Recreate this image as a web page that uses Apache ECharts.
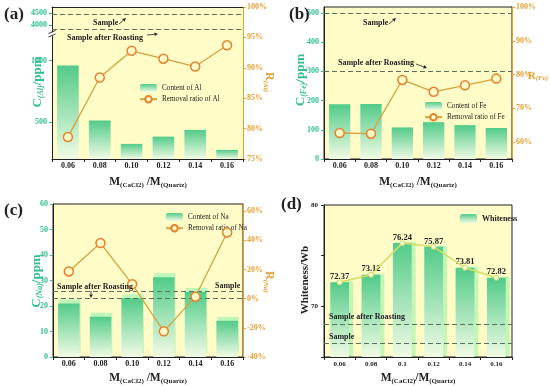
<!DOCTYPE html>
<html>
<head>
<meta charset="utf-8">
<script src="https://cdn.jsdelivr.net/npm/echarts@6/dist/echarts.min.js"></script>
<style>html,body{margin:0;padding:0;background:#fff}#c{width:550px;height:387px}</style>
</head>
<body>
<div id="c"></div>
<script>
// ---- data ----
const categories = ['0.06', '0.08', '0.10', '0.12', '0.14', '0.16'];
const categoriesD = ['0.06', '0.08', '0.1', '0.12', '0.14', '0.16'];
const alContent = [960, 513, 323, 382, 437, 274];
const alRemoval = [78.6, 88.4, 92.8, 91.5, 90.2, 93.7];
const alRefs = [4470, 3800]; // Sample, Sample after Roasting
const feContent = [187, 188, 108, 126, 116, 106];
const feRemoval = [62.7, 62.5, 78.4, 74.9, 76.8, 78.8];
const feRefs = [500, 300];
const naContent = [21, 15.8, 23, 31.3, 25.5, 14.2];
const naRemoval = [18.7, 38.2, 10, -22.4, 1.4, 45.5];
const naRefs = [25.8, 22.9];
const whiteness = [72.37, 73.12, 76.24, 75.87, 73.81, 72.82];
const whiteRefs = [68.23, 66.36];
const alTicksLow = [500, 1000];
const alTicksHigh = [4000, 4500];
const feRightTicks = [60, 70, 80, 90, 100];
const naRightTicks = [-40, -20, 0, 20, 40, 60];
const whiteTicks = [65, 70, 75, 80];
const whiteLabels = [70, 80];

const FONT = 'Liberation Serif';
const TEAL = '#33bf8e';
const ORANGE = '#e3a035';
const DARK = '#222';
const BG = '#fffcc8';
const DASH = '#56745c';

const chart = echarts.init(document.getElementById('c'), null, {renderer: 'canvas'});

const barGrad = {type: 'linear', x: 0, y: 0, x2: 0, y2: 1, colorStops: [
  {offset: 0, color: '#52cb89'}, {offset: 1, color: '#f1fbe4'}]};

function catAxis(grid, data, show, extra) {
  return Object.assign({
    type: 'category', gridIndex: grid, data: data, show: show,
    axisLine: {lineStyle: {color: DARK, width: 1}},
    axisTick: {show: true, length: 3, lineStyle: {color: DARK}},
    axisLabel: {margin: 3, fontFamily: FONT, fontWeight: 'bold', fontSize: 8, color: DARK}
  }, extra || {});
}
function valAxis(grid, pos, min, max, opts) {
  opts = opts || {};
  const color = opts.color || TEAL;
  const suffix = opts.suffix || '';
  const ax = {
    type: 'value', gridIndex: grid, position: pos, min: min, max: max,
    splitLine: {show: false},
    axisLine: {show: true, lineStyle: {color: opts.lineColor || DARK, width: 1}},
    axisTick: {show: true, length: 3, inside: false, lineStyle: {color: opts.tickColor || color}},
    axisLabel: {margin: opts.margin || 5, fontFamily: FONT, fontWeight: 'bold', fontSize: opts.fontSize || 8, color: color,
      formatter: v => String(v) + suffix}
  };
  if (opts.interval) ax.interval = opts.interval;
  if (opts.ticks) { ax.axisTick.customValues = opts.ticks; ax.axisLabel.customValues = opts.labels || opts.ticks; }
  return ax;
}
function refLines(vals) {
  return {silent: true, symbol: 'none', label: {show: false},
    lineStyle: {color: DASH, type: [5, 3], width: 1},
    data: vals.map(v => ({yAxis: v}))};
}
const lineStyleRemoval = {
  type: 'line', symbol: 'circle', symbolSize: 9,
  lineStyle: {color: '#d2a33e', width: 1.3},
  itemStyle: {color: BG, borderColor: '#e8812f', borderWidth: 1.5}, z: 5
};
const legendText = {fontFamily: FONT, fontSize: 7.2, color: DARK};

const option = {
  animation: false,
  backgroundColor: '#fff',
  grid: [
    {left: 52, top: 7, width: 191, height: 152, show: true, backgroundColor: BG, borderWidth: 0},
    {left: 52, top: 36, width: 191, height: 123, show: false},
    {left: 52, top: 7, width: 191, height: 25, show: false},
    {left: 324, top: 7, width: 188, height: 152, show: true, backgroundColor: BG, borderColor: DARK, borderWidth: 1},
    {left: 53, top: 204, width: 190, height: 153, show: true, backgroundColor: BG, borderColor: DARK, borderWidth: 1},
    {left: 324, top: 205, width: 188, height: 152, show: true, backgroundColor: BG, borderColor: DARK, borderWidth: 1}
  ],
  xAxis: [
    catAxis(0, categories, true),
    catAxis(1, categories, false),
    catAxis(2, categories, false),
    catAxis(0, categories, true, {position: 'top', axisTick: {show: false}, axisLabel: {show: false}}),
    catAxis(3, categories, true),
    catAxis(4, categories, true),
    catAxis(5, categoriesD, true, {axisLabel: {margin: 4, fontFamily: FONT, fontWeight: 'bold', fontSize: 7, color: DARK}})
  ],
  yAxis: [
    valAxis(0, 'right', 75, 100, {interval: 5, color: ORANGE, lineColor: ORANGE, suffix: '%', margin: 4}),
    valAxis(1, 'left', 200, 1200, {ticks: alTicksLow}),
    valAxis(2, 'left', 3700, 4770, {ticks: alTicksHigh}),
    valAxis(3, 'left', 0, 520, {interval: 100}),
    valAxis(3, 'right', 55, 100, {ticks: feRightTicks, color: ORANGE, lineColor: ORANGE, suffix: '%', margin: 4}),
    valAxis(4, 'left', 0, 60, {interval: 10}),
    valAxis(4, 'right', -40, 65, {ticks: naRightTicks, color: ORANGE, lineColor: ORANGE, suffix: '%', margin: 4}),
    valAxis(5, 'left', 65, 80, {ticks: whiteTicks, labels: whiteLabels, color: DARK, fontSize: 7, margin: 6})
  ],
  legend: [
    {orient: 'vertical', left: 134, top: 79, itemWidth: 17, itemHeight: 8, itemGap: 3,
      textStyle: legendText, data: ['Content of Al', 'Removal ratio of Al']},
    {orient: 'vertical', left: 419, top: 97, itemWidth: 17, itemHeight: 8, itemGap: 3,
      textStyle: legendText, data: ['Content of Fe', 'Removal ratio of Fe']},
    {orient: 'vertical', left: 160, top: 208, itemWidth: 17, itemHeight: 8, itemGap: 3,
      textStyle: legendText, data: ['Content of Na', 'Removal ratio of Na']},
    {orient: 'vertical', left: 455, top: 209, itemWidth: 17, itemHeight: 9, itemGap: 3,
      textStyle: {fontFamily: FONT, fontSize: 8, fontWeight: 'bold', color: DARK}, data: ['Whiteness']}
  ],
  series: [
    {name: 'Content of Al', type: 'bar', xAxisIndex: 1, yAxisIndex: 1, data: alContent, barWidth: '68%',
      itemStyle: {color: barGrad}},
    {name: 'Al refs', type: 'line', xAxisIndex: 2, yAxisIndex: 2, data: [], markLine: refLines(alRefs)},
    Object.assign({name: 'Removal ratio of Al', xAxisIndex: 0, yAxisIndex: 0, data: alRemoval}, lineStyleRemoval),

    {name: 'Content of Fe', type: 'bar', xAxisIndex: 4, yAxisIndex: 3, data: feContent, barWidth: '68%',
      itemStyle: {color: barGrad}, markLine: refLines(feRefs)},
    Object.assign({name: 'Removal ratio of Fe', xAxisIndex: 4, yAxisIndex: 4, data: feRemoval}, lineStyleRemoval),

    {name: 'Content of Na', type: 'bar', xAxisIndex: 5, yAxisIndex: 5, data: naContent, barWidth: '68%',
      itemStyle: {color: barGrad, shadowColor: 'rgba(170,245,180,0.75)', shadowOffsetY: -4, shadowOffsetX: 1},
      markLine: Object.assign(refLines(naRefs), {z: 4})},
    Object.assign({name: 'Removal ratio of Na', xAxisIndex: 5, yAxisIndex: 6, data: naRemoval}, lineStyleRemoval),

    {name: 'Whiteness', type: 'bar', xAxisIndex: 6, yAxisIndex: 7, data: whiteness, barWidth: '60%',
      itemStyle: {color: barGrad, shadowColor: 'rgba(180,245,175,0.8)', shadowOffsetX: 4, shadowOffsetY: -1},
      label: {show: true, position: 'top', distance: 1, fontFamily: FONT, fontWeight: 'bold', fontSize: 8.5, color: DARK,
        formatter: p => p.value.toFixed(2)},
      markLine: refLines(whiteRefs)},
    {name: 'Whiteness line', type: 'line', xAxisIndex: 6, yAxisIndex: 7, data: whiteness, symbol: 'circle', symbolSize: 5,
      lineStyle: {color: '#d6dc68', width: 1.5}, itemStyle: {color: '#f6f8dc', borderColor: '#d6dc68', borderWidth: 1}, z: 5}
  ],
  graphic: []
};

// text helpers
function txt(x, y, text, o) {
  o = o || {};
  return {type: 'text', x: x, y: y, rotation: o.rot || 0, z: 100,
    style: {text: text, fontFamily: FONT, fontSize: o.size || 8, fontWeight: o.weight || 'bold', fill: o.color || DARK,
      align: o.align || 'left', verticalAlign: o.va || 'middle', rich: o.rich}};
}
function richTitle(x, y, main, sub, tail, color, rot, size) {
  size = size || 13;
  const ss = Math.round(size * 0.6);
  const rich = {
    m: {fontFamily: FONT, fontSize: size, fontWeight: 'bold', fill: color, lineHeight: size + 1, verticalAlign: 'middle'},
    s: {fontFamily: FONT, fontSize: ss, fontWeight: 'bold', fontStyle: 'italic', fill: color, lineHeight: ss + 2, verticalAlign: 'bottom'}
  };
  return txt(x, y, '{m|' + main + '}{s|' + sub + '}' + (tail ? '{m|' + tail + '}' : ''), {rich: rich, rot: rot, align: 'center', color: color});
}
function xTitle(x, y, sep) {
  const rich = {
    m: {fontFamily: FONT, fontSize: 11.5, fontWeight: 'bold', fill: DARK, lineHeight: 13, verticalAlign: 'middle'},
    s: {fontFamily: FONT, fontSize: 7, fontWeight: 'bold', fill: DARK, lineHeight: 8, verticalAlign: 'bottom'}
  };
  return txt(x, y, '{m|M}{s|(CaCl2)}{m|' + sep + '/M}{s|(Quartz)}', {rich: rich, align: 'center'});
}
function arrow(x1, y1, x2, y2) {
  const a = Math.atan2(y2 - y1, x2 - x1), L = 3.5, w = 1.8;
  const bx = x2 - L * Math.cos(a), by = y2 - L * Math.sin(a);
  return [
    {type: 'line', z: 100, shape: {x1: x1, y1: y1, x2: bx, y2: by}, style: {stroke: DARK, lineWidth: 0.8}},
    {type: 'polygon', z: 100, shape: {points: [[x2, y2], [bx - w * Math.sin(a), by + w * Math.cos(a)], [bx + w * Math.sin(a), by - w * Math.cos(a)]]}, style: {fill: DARK}}
  ];
}

const G = option.graphic;
// panel labels
G.push(txt(4, 15, '(a)', {size: 17}));
G.push(txt(289, 15, '(b)', {size: 17}));
G.push(txt(4, 211, '(c)', {size: 17}));
G.push(txt(281, 205, '(d)', {size: 17}));
// axis titles
G.push(richTitle(38, 82, 'C', '(Al)', '/ppm', TEAL, Math.PI / 2));
G.push(richTitle(269, 82, 'R', '(Al)', '', ORANGE, -Math.PI / 2, 12));
G.push(richTitle(301, 80, 'C', '(Fe)', '/ppm', TEAL, Math.PI / 2));
G.push(richTitle(538, 76, 'R', '(Fe)', '', ORANGE, 0, 11));
G.push(richTitle(37, 281, 'C', '(Na)', '/ppm', TEAL, Math.PI / 2));
G.push(richTitle(269, 282, 'R', '(Na)', '', ORANGE, -Math.PI / 2, 12));
G.push(txt(305, 280, 'Whiteness/Wb', {size: 11, rot: Math.PI / 2, align: 'center'}));
G.push(xTitle(148, 182, ' '));
G.push(xTitle(418, 182, ' '));
G.push(xTitle(148, 378, ' '));
G.push(xTitle(418, 378, ''));
// annotations
G.push(txt(93, 23, 'Sample'));
G.push(...arrow(119, 24, 126, 18));
G.push(txt(67, 38, 'Sample after Roasting'));
G.push(...arrow(147, 35, 158, 34));
G.push(txt(363, 23, 'Sample'));
G.push(...arrow(389, 24, 396, 18));
G.push(txt(338, 63, 'Sample after Roasting'));
G.push(...arrow(416, 64, 427, 68));
G.push(txt(57, 287, 'Sample after Roasting'));
G.push(txt(215, 286, 'Sample'));
G.push(...arrow(91, 291, 91, 298));
G.push(txt(329, 317, 'Sample after Roasting'));
G.push(txt(329, 337, 'Sample'));
// axis break mark on panel (a)
G.push({type: 'rect', z: 99, shape: {x: 48, y: 32.5, width: 8, height: 3}, style: {fill: '#fff'}});
G.push({type: 'line', z: 100, shape: {x1: 48.5, y1: 33.5, x2: 55.5, y2: 30.5}, style: {stroke: DARK, lineWidth: 0.9}});
G.push({type: 'line', z: 100, shape: {x1: 48.5, y1: 37, x2: 55.5, y2: 34}, style: {stroke: DARK, lineWidth: 0.9}});

chart.setOption(option);
</script>
</body>
</html>
